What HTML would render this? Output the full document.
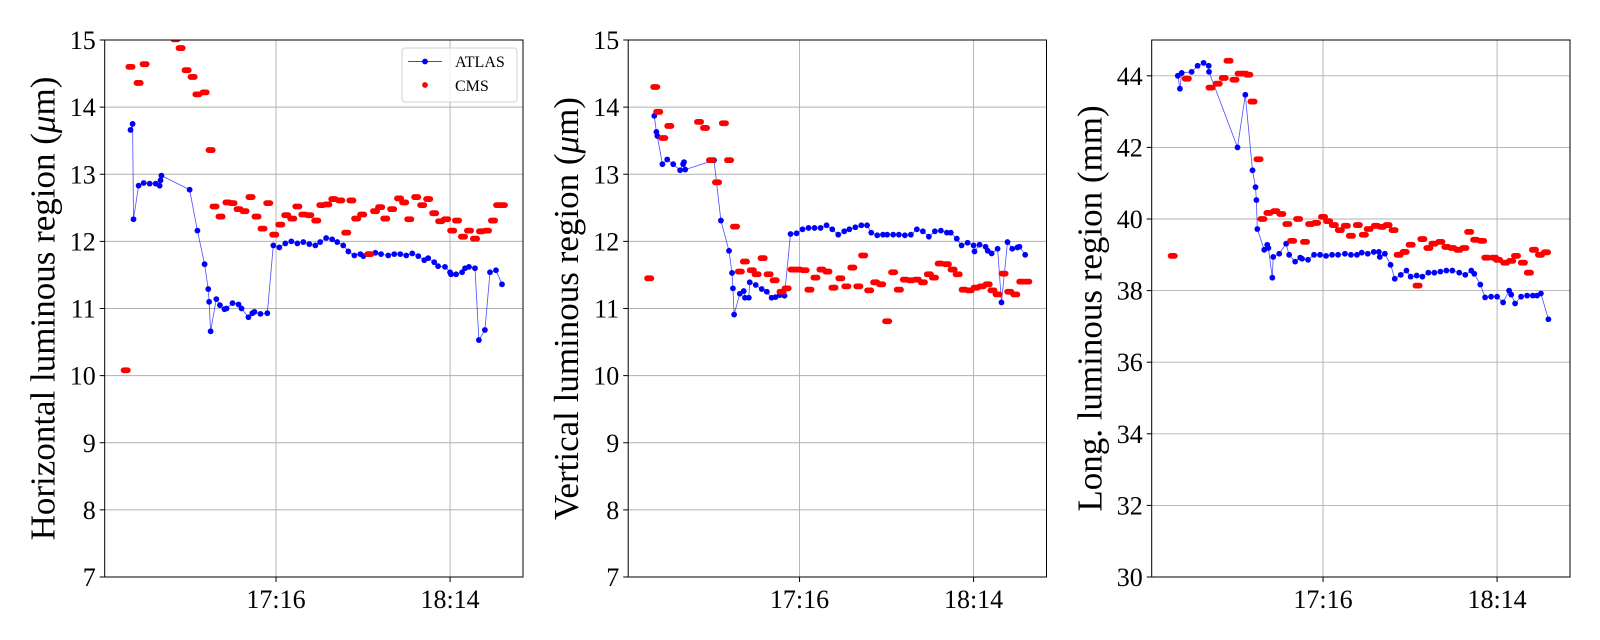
<!DOCTYPE html>
<html><head><meta charset="utf-8"><style>
body{margin:0;background:#fff}
svg{display:block}
text{font-family:"Liberation Serif",serif;fill:#000}
</style></head><body>
<svg id="chart" width="1600" height="640" xmlns="http://www.w3.org/2000/svg"></svg>
<script>
// x values: minutes relative to 17:16
const xTickLabels = ["17:16", "18:14"];
const xTickValues = [0, 58];

const p1AtlasT = [-48.5,-47.8,-47.5,-45.8,-44.1,-42.1,-40.1,-38.8,-38.5,-38.2,-28.8,-26.2,-23.8,-22.6,-22.3,-21.8,-19.9,-18.7,-17.2,-16.5,-14.5,-12.5,-11.5,-9.2,-7.9,-7.2,-5.2,-2.9,-0.9,1.1,3.1,5.1,7.1,9.1,11.1,13.1,14.7,16.7,18.7,20.4,22.4,24.1,26.1,28.1,29.1,31.1,33.1,35.0,37.4,39.4,41.4,43.4,45.4,47.4,49.4,50.7,52.7,54.0,56.3,58.0,58.3,60.0,62.0,63.0,64.3,66.3,67.6,69.6,71.3,73.3,75.3];
const p1AtlasV = [13.66,13.75,12.33,12.83,12.87,12.86,12.86,12.83,12.91,12.98,12.77,12.16,11.66,11.29,11.10,10.66,11.14,11.05,10.99,11.00,11.08,11.06,11.00,10.87,10.93,10.95,10.92,10.93,11.94,11.91,11.97,12.00,11.97,11.99,11.96,11.94,11.99,12.05,12.03,11.99,11.94,11.85,11.79,11.81,11.78,11.81,11.83,11.81,11.79,11.81,11.81,11.79,11.82,11.78,11.72,11.75,11.69,11.63,11.62,11.54,11.51,11.51,11.54,11.60,11.62,11.60,10.53,10.68,11.54,11.57,11.36];
const p1CmsT = [-50.1,-48.5,-45.8,-43.8,-33.5,-31.8,-29.8,-27.8,-26.2,-23.8,-21.8,-20.5,-18.5,-16.2,-14.5,-12.5,-10.5,-8.5,-6.5,-4.5,-2.6,-0.6,1.4,3.4,5.4,7.1,9.1,11.1,13.4,15.1,17.1,19.1,21.4,23.4,25.1,26.7,28.7,31.1,33.0,34.7,36.4,38.7,41.0,42.7,44.4,46.7,48.7,50.7,52.7,54.7,56.7,58.7,60.3,62.3,64.3,66.3,68.3,70.3,72.3,74.0,75.6];
const p1CmsV = [10.08,14.60,14.36,14.64,15.01,14.88,14.55,14.45,14.19,14.22,13.36,12.52,12.37,12.58,12.57,12.48,12.45,12.66,12.37,12.19,12.57,12.10,12.25,12.39,12.34,12.52,12.40,12.39,12.31,12.54,12.55,12.63,12.61,12.13,12.61,12.34,12.40,11.81,12.45,12.51,12.34,12.48,12.64,12.58,12.33,12.66,12.54,12.63,12.42,12.30,12.33,12.16,12.31,12.07,12.16,12.04,12.15,12.16,12.31,12.54,12.54];

const p2AtlasT = [-48.4,-47.7,-47.4,-45.7,-44.1,-42.1,-39.8,-38.8,-38.5,-38.1,-28.5,-26.2,-23.5,-22.5,-22.2,-21.8,-19.9,-18.6,-18.2,-16.9,-16.6,-14.6,-12.6,-10.9,-9.3,-8.0,-6.6,-5.0,-3.0,-1.0,1.0,3.0,5.0,7.0,9.0,10.9,12.9,14.9,16.6,18.6,20.6,22.5,23.9,25.9,27.8,29.2,31.2,33.1,35.1,37.1,39.1,41.1,43.1,45.1,47.1,49.1,50.4,52.4,54.0,56.0,58.0,58.3,60.0,62.0,62.7,64.0,66.0,67.3,69.3,70.9,72.6,73.3,75.2];
const p2AtlasV = [13.87,13.63,13.57,13.15,13.22,13.15,13.06,13.15,13.18,13.07,13.21,12.31,11.86,11.53,11.30,10.91,11.22,11.26,11.16,11.16,11.39,11.35,11.29,11.25,11.16,11.17,11.20,11.19,12.11,12.12,12.18,12.20,12.20,12.20,12.24,12.18,12.10,12.15,12.18,12.21,12.24,12.24,12.13,12.09,12.10,12.10,12.10,12.10,12.09,12.10,12.18,12.15,12.07,12.15,12.16,12.13,12.13,12.04,11.94,11.98,11.94,11.85,11.95,11.92,11.86,11.82,11.89,11.09,11.99,11.89,11.91,11.92,11.80];
const p2CmsT = [-50.1,-48.1,-47.1,-45.4,-43.4,-33.5,-31.5,-29.5,-27.5,-25.2,-23.5,-21.5,-19.9,-18.2,-15.9,-14.3,-12.3,-10.3,-8.3,-6.0,-4.3,-2.3,-0.3,1.7,3.3,5.3,7.3,9.3,11.3,13.6,15.6,17.6,19.6,21.2,23.2,25.2,27.2,29.2,31.2,33.1,35.1,37.1,39.1,41.1,43.1,44.8,46.7,49.1,51.0,52.7,54.7,56.7,58.7,60.7,62.7,64.3,66.0,68.0,69.9,71.9,73.9,75.9];
const p2CmsV = [11.45,14.30,13.93,13.54,13.72,13.78,13.69,13.21,12.88,13.76,13.21,12.22,11.55,11.70,11.57,11.51,11.75,11.51,11.42,11.25,11.30,11.58,11.58,11.57,11.28,11.46,11.58,11.55,11.31,11.45,11.33,11.61,11.33,11.79,11.27,11.39,11.36,10.81,11.54,11.28,11.43,11.42,11.43,11.39,11.51,11.46,11.67,11.66,11.58,11.51,11.28,11.27,11.31,11.33,11.36,11.27,11.21,11.52,11.25,11.21,11.40,11.40];

const p3AtlasT = [-48.4,-47.7,-47.1,-43.8,-41.8,-39.8,-38.1,-38.0,-28.5,-25.9,-23.5,-22.5,-22.2,-21.9,-19.6,-18.6,-18.2,-16.9,-16.6,-14.6,-12.3,-11.3,-9.3,-7.6,-7.0,-5.0,-3.0,-1.0,1.0,3.0,5.0,7.3,9.3,11.3,12.9,14.9,16.9,18.6,18.9,20.6,22.5,23.9,25.9,27.8,29.2,31.2,33.1,35.1,37.1,39.1,41.1,43.1,45.4,47.4,49.4,50.4,52.4,54.0,56.0,58.0,60.0,62.0,62.7,64.0,66.0,68.0,69.9,71.3,72.6,75.1];
const p3AtlasV = [44.0,43.64,44.08,44.11,44.28,44.36,44.28,44.11,42.0,43.47,41.36,40.89,40.53,39.72,39.14,39.28,39.19,38.36,38.94,39.03,39.31,39.0,38.81,38.92,38.89,38.86,39.0,39.0,38.97,39.0,39.0,39.03,39.0,39.0,39.06,39.03,39.08,39.08,38.94,39.03,38.72,38.33,38.44,38.56,38.39,38.42,38.39,38.50,38.50,38.53,38.56,38.56,38.50,38.44,38.56,38.47,38.17,37.81,37.83,37.83,37.67,38.0,37.89,37.64,37.83,37.86,37.86,37.86,37.92,37.2];
const p3CmsT = [-50.1,-45.4,-37.5,-35.1,-33.1,-31.5,-29.5,-27.8,-26.2,-24.9,-23.5,-21.5,-20.2,-18.2,-15.9,-13.9,-11.9,-10.3,-8.3,-6.0,-4.3,-2.3,0,1.7,3.6,5.6,7.6,9.3,11.6,13.6,15.2,17.6,19.6,21.5,23.5,25.2,27.2,29.2,31.5,33.1,35.1,36.8,39.1,41.1,43.1,45.1,47.1,48.7,50.7,53.0,54.4,57.0,58.3,60.7,62.7,64.3,66.6,68.6,70.3,72.3,74.3];
const p3CmsV = [38.97,43.92,43.67,43.78,43.94,44.42,43.89,44.06,44.06,44.03,43.28,41.67,40.0,40.17,40.22,40.14,39.86,39.39,40.0,39.36,39.86,39.89,40.06,39.94,39.83,39.69,39.81,39.53,39.83,39.56,39.72,39.81,39.78,39.83,39.69,39.0,39.08,39.28,38.14,39.44,39.19,39.31,39.36,39.22,39.19,39.14,39.19,39.64,39.42,39.39,38.92,38.92,38.86,38.78,38.83,38.97,38.78,38.5,39.14,39.0,39.07];

const p1YTicks = [7,8,9,10,11,12,13,14,15];
const p2YTicks = [7,8,9,10,11,12,13,14,15];
const p3YTicks = [30,32,34,36,38,40,42,44];

const NS = "http://www.w3.org/2000/svg";
const svg = document.getElementById("chart");
function mk(tag, attrs, parent){
  const e = document.createElementNS(NS, tag);
  for (const k in attrs) e.setAttribute(k, attrs[k]);
  (parent||svg).appendChild(e);
  return e;
}
const X0 = -57.1, X1 = 82.3;
const TOP = 40, BOTTOM = 577, W = 418.3;

function panel(idx, left, ymin, ymax, yTicks, titleA, titleMu, titleB, aT, aV, cT, cV, legend){
  const g = mk("g", {});
  
  
  const xs = t => left + (t - X0) / (X1 - X0) * W;
  const ys = v => BOTTOM - (v - ymin) / (ymax - ymin) * (BOTTOM - TOP);
  yTicks.forEach((v, i) => {
    const y = ys(v);
    const gl = mk("line", {x1:left, x2:left+W, y1:y, y2:y, stroke:"#b0b0b0", "stroke-width":0.9}, g);
    
    
    const tk = mk("line", {x1:left-5, x2:left, y1:y, y2:y, stroke:"#000", "stroke-width":1}, g);
    
    
    const tl = mk("text", {x:left-9, y:y+9, "text-anchor":"end", "font-size":26}, g);
    tl.textContent = String(v);
    
    
  });
  xTickValues.forEach((t, i) => {
    const x = xs(t);
    const gl = mk("line", {x1:x, x2:x, y1:TOP, y2:BOTTOM, stroke:"#b0b0b0", "stroke-width":0.9}, g);
    
    
    const tk = mk("line", {x1:x, x2:x, y1:BOTTOM, y2:BOTTOM+5, stroke:"#000", "stroke-width":1}, g);
    
    
    const tl = mk("text", {x:x, y:BOTTOM+31, "text-anchor":"middle", "font-size":26}, g);
    tl.textContent = xTickLabels[i];
    
    
  });
  const cp = mk("clipPath", {id:"clip"+idx}, g);
  mk("rect", {x:left, y:TOP, width:W, height:BOTTOM-TOP}, cp);
  const data = mk("g", {"clip-path":"url(#clip"+idx+")"}, g);
  const pts = aT.map((t, i) => xs(t).toFixed(1) + "," + ys(aV[i]).toFixed(1)).join(" ");
  const pl = mk("polyline", {points:pts, fill:"none", stroke:"#0000ff", "stroke-width":0.8, "stroke-opacity":0.7}, data);
  
  
  aT.forEach((t, i) => {
    const c = mk("circle", {cx:xs(t), cy:ys(aV[i]), r:2.9, fill:"#0000ff"}, data);
    
    
  });
  cT.forEach((t, i) => {
    const r = mk("rect", {x:xs(t)-5, y:ys(cV[i])-2.9, width:10, height:5.8, rx:2.9, fill:"#ff0000"}, data);
    
    
  });
  const fr = mk("rect", {x:left, y:TOP, width:W, height:BOTTOM-TOP, fill:"none", stroke:"#000", "stroke-width":1}, g);
  
  
  const cy = (TOP + BOTTOM) / 2;
  const tx = left - 50;
  const yt = mk("text", {x:tx, y:cy, "text-anchor":"middle", "font-size":35, transform:"rotate(-90 "+tx+" "+cy+")"}, g);
  
  
  yt.appendChild(document.createTextNode(titleA));
  if (titleMu){
    const ts = mk("tspan", {"font-style":"italic"}, yt);
    ts.textContent = "\u03bc";
  }
  yt.appendChild(document.createTextNode(titleB));
  if (legend){
    const lg = mk("g", {}, g);
    
    
    mk("rect", {x:402, y:48, width:115, height:54, rx:3, fill:"#fff", "fill-opacity":0.8, stroke:"#d0d0d0"}, lg);
    mk("line", {x1:408, x2:442, y1:61.5, y2:61.5, stroke:"#0000ff", "stroke-width":0.8}, lg);
    mk("circle", {cx:425, cy:61.5, r:2.9, fill:"#0000ff"}, lg);
    const t1 = mk("text", {x:455, y:67, "font-size":16}, lg);
    t1.textContent = "ATLAS";
    
    
    mk("circle", {cx:425, cy:85, r:2.9, fill:"#ff0000"}, lg);
    const t2 = mk("text", {x:455, y:91, "font-size":16}, lg);
    t2.textContent = "CMS";
    
    
  }
}
panel(1, 104.7, 7, 15, p1YTicks, "Horizontal luminous region (", true, "m)", p1AtlasT, p1AtlasV, p1CmsT, p1CmsV, true);
panel(2, 628.2, 7, 15, p2YTicks, "Vertical luminous region (", true, "m)", p2AtlasT, p2AtlasV, p2CmsT, p2CmsV, false);
panel(3, 1151.7, 30, 45, p3YTicks, "Long. luminous region (mm)", false, "", p3AtlasT, p3AtlasV, p3CmsT, p3CmsV, false);
</script>
</body></html>
